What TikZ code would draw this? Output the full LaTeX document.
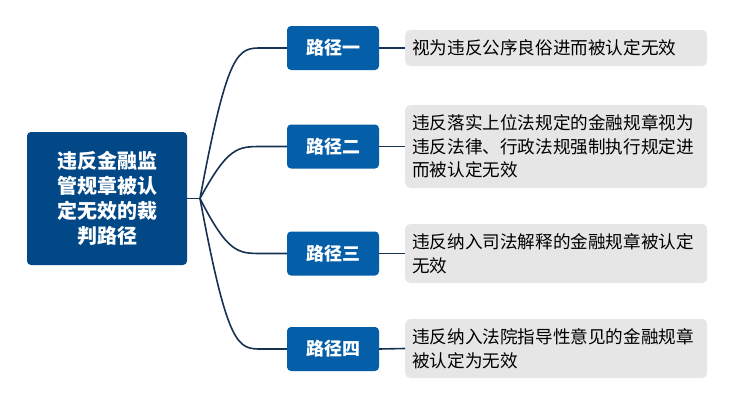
\documentclass[tikz,border=0pt]{standalone}
\usepackage{fontspec}
\newfontfamily\cjk{Noto Sans CJK SC}
\definecolor{rootblue}{RGB}{2,72,134}
\definecolor{branchblue}{RGB}{4,94,168}
\definecolor{leafgray}{RGB}{230,230,230}
\definecolor{linecol}{RGB}{22,50,82}
\begin{document}
\begin{tikzpicture}[x=1pt,y=-1pt,
  rootbox/.style={fill=rootblue, rounded corners=4pt, minimum width=160pt, minimum height=133pt, inner sep=0pt, text=white, align=center, font=\cjk\bfseries\fontsize{20}{25}\selectfont},
  branchbox/.style={fill=branchblue, rounded corners=4pt, minimum width=92pt, minimum height=44pt, inner sep=0pt, text=white, font=\cjk\bfseries\fontsize{18}{22}\selectfont},
  leafbox/.style={fill=leafgray, rounded corners=5pt, anchor=west, inner xsep=7pt, inner ysep=0pt, text width=288pt, align=left, text=black, font=\cjk\fontsize{17.6}{23.5}\selectfont},
  conn/.style={draw=linecol, line width=1.6pt}
]
\useasboundingbox (0,0) rectangle (739,410);
\node[rootbox] (root) at (107,198.5) {违反金融监\\管规章被认\\定无效的裁\\判路径};
\coordinate (j) at (200,198.5);
\node[branchbox] (b1) at (333,48) {路径一};
\node[branchbox] (b2) at (333,146.5) {路径二};
\node[branchbox] (b3) at (333,253.5) {路径三};
\node[branchbox] (b4) at (333,349) {路径四};
\node[leafbox, minimum height=36pt] (l1) at (405,48) {视为违反公序良俗进而被认定无效};
\node[leafbox, minimum height=83pt] (l2) at (405,146.5) {违反落实上位法规定的金融规章视为\\违反法律、行政法规强制执行规定进\\而被认定无效};
\node[leafbox, minimum height=59pt] (l3) at (405,253.5) {违反纳入司法解释的金融规章被认定\\无效};
\node[leafbox, minimum height=59pt] (l4) at (405,348.5) {违反纳入法院指导性意见的金融规章\\被认定为无效};
\draw[conn] (root.east) -- (j);
\foreach \b in {b1,b2,b3,b4}{
  \draw[conn] (j) .. controls ([xshift=28pt]j|-\b.west) and ([xshift=38pt]j|-\b.west) .. ([xshift=62pt]j|-\b.west) -- (\b.west);
}
\draw[conn] (b1.east) -- (l1.west);
\draw[conn] (b2.east) -- (l2.west);
\draw[conn] (b3.east) -- (l3.west);
\draw[conn] (b4.east) -- (l4.west);
\end{tikzpicture}
\end{document}
